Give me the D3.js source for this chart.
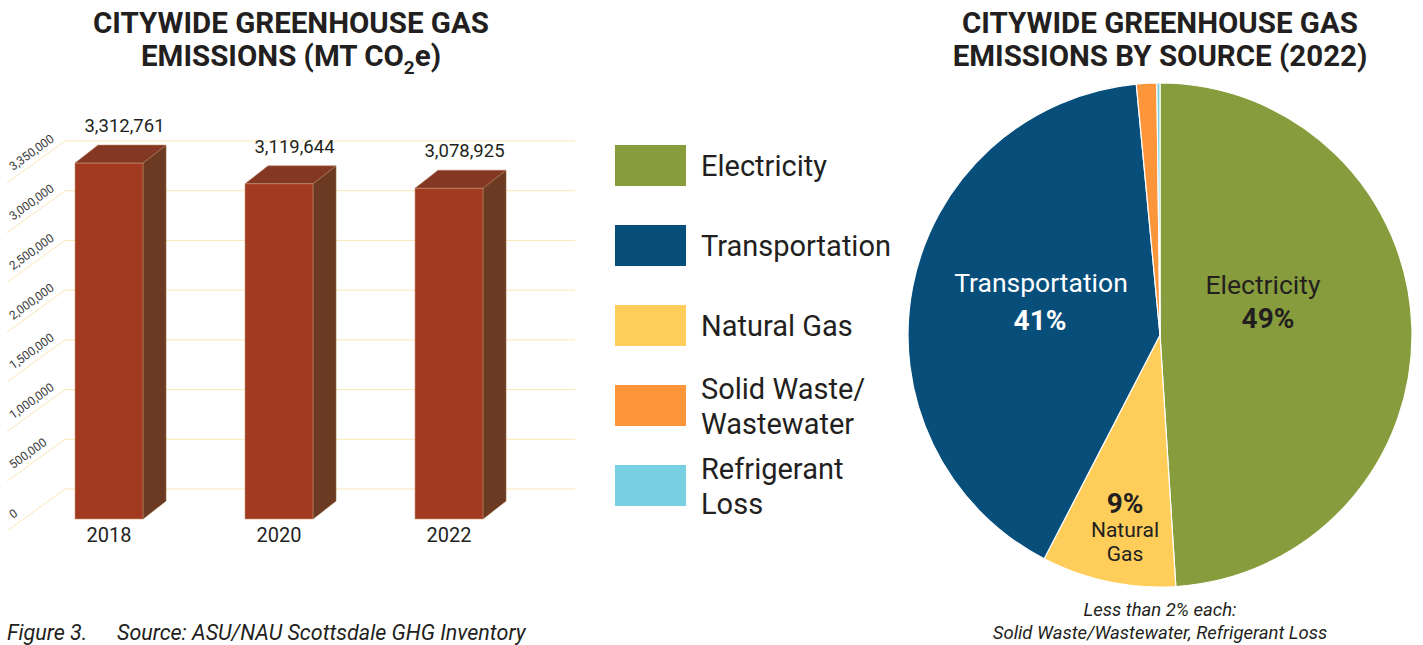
<!DOCTYPE html>
<html>
<head>
<meta charset="utf-8">
<script src="https://cdn.jsdelivr.net/npm/d3@7"></script>
<style>
  body { margin: 0; background: #fff; }
  svg { display: block; font-family: Roboto, "Open Sans", sans-serif; }
</style>
</head>
<body>
<svg id="chart" width="1423" height="645"></svg>
<script>
// bar chart data
var years = ['2018', '2020', '2022'];
var emissions = [3312761, 3119644, 3078925];
var tickValues = [0, 500000, 1000000, 1500000, 2000000, 2500000, 3000000, 3500000];
var tickLabels = ['0', '500,000', '1,000,000', '1,500,000', '2,000,000', '2,500,000', '3,000,000', '3,350,000'];

// pie data (2022, percent)
var sources = ['Electricity', 'Natural Gas', 'Transportation', 'Solid Waste/Wastewater', 'Refrigerant Loss'];
var shares = [49.0, 8.6, 40.9, 1.3, 0.2];
var sourceColors = ['#879d3d', '#fecd5a', '#074e7b', '#fd953a', '#7ad0e3'];

// legend order
var legendNames = [['Electricity'], ['Transportation'], ['Natural Gas'], ['Solid Waste/', 'Wastewater'], ['Refrigerant', 'Loss']];
var legendColors = ['#879d3d', '#074e7b', '#fecd5a', '#fd953a', '#7ad0e3'];

var svg = d3.select('#chart');
var fmt = d3.format(',');

// ---------- titles ----------
function title(cx) {
    return svg.append('text')
        .attr('text-anchor', 'middle')
        .style('font-size', '29.5px').style('font-weight', 700).style('fill', '#231f20');
}
var t1 = title(291);
t1.append('tspan').attr('x', 291).attr('y', 33).text('CITYWIDE GREENHOUSE GAS');
t1.append('tspan').attr('x', 291).attr('y', 66).text('EMISSIONS (MT CO');
t1.append('tspan').attr('dy', 8).style('font-size', '19px').text('2');
t1.append('tspan').attr('dy', -8).text('e)');

var t2 = title(1160);
t2.append('tspan').attr('x', 1160).attr('y', 33).text('CITYWIDE GREENHOUSE GAS');
t2.append('tspan').attr('x', 1160).attr('y', 66).text('EMISSIONS BY SOURCE (2022)');

// ---------- 3d bar chart ----------
var depthX = 23, depthY = -18;
var x = d3.scaleBand().domain(years).range([24, 534]).paddingInner(0.6).paddingOuter(0.3);
var yFront = d3.scaleLinear().domain([0, 3500000]).range([519, 143]);
var yWall = d3.scaleLinear().domain([0, 3500000]).range([489, 141]);

var grid = svg.append('g');
grid.selectAll('path')
    .data(tickValues)
    .enter()
    .append('path')
    .attr('d', function(d){
        var y = yWall(d);
        return 'M7,' + (y + 42) + 'L65,' + y + 'L575,' + y;
    })
    .style('fill', 'none')
    .style('stroke', '#fbe7b6')
    .style('stroke-width', 1);

grid.selectAll('text')
    .data(tickValues)
    .enter()
    .append('text')
    .attr('transform', function(d){
        return 'translate(13,' + (yWall(d) + 30) + ') rotate(-36)';
    })
    .style('font-size', '12px')
    .style('fill', '#3a3a3a')
    .text(function(d, i){ return tickLabels[i]; });

var bars = svg.selectAll('g.bar')
    .data(years.map(function(y, i){ return {year: y, value: emissions[i]}; }))
    .enter()
    .append('g')
    .attr('class', 'bar');

bars.append('path')
    .attr('d', function(d){
        var x0 = x(d.year), w = x.bandwidth(), top = yFront(d.value), base = yFront(0);
        return 'M' + (x0 + w) + ',' + top + 'L' + (x0 + w + depthX) + ',' + (top + depthY) +
            'L' + (x0 + w + depthX) + ',' + (base + depthY) + 'L' + (x0 + w) + ',' + base + 'Z';
    })
    .style('fill', '#6c3a22')
    .style('stroke', '#8a6a3a')
    .style('stroke-width', 0.6);

bars.append('path')
    .attr('d', function(d){
        var x0 = x(d.year), w = x.bandwidth(), top = yFront(d.value);
        return 'M' + x0 + ',' + top + 'L' + (x0 + depthX) + ',' + (top + depthY) +
            'L' + (x0 + w + depthX) + ',' + (top + depthY) + 'L' + (x0 + w) + ',' + top + 'Z';
    })
    .style('fill', '#843823')
    .style('stroke', '#b07a5c')
    .style('stroke-width', 0.6);

bars.append('rect')
    .attr('x', function(d){ return x(d.year); })
    .attr('y', function(d){ return yFront(d.value); })
    .attr('width', x.bandwidth())
    .attr('height', function(d){ return yFront(0) - yFront(d.value); })
    .style('fill', '#a23a22')
    .style('stroke', '#c49672')
    .style('stroke-width', 0.6);

bars.append('text')
    .attr('x', function(d){ return x(d.year) + x.bandwidth() / 2 + depthX / 2 + 4; })
    .attr('y', function(d){ return yFront(d.value) + depthY - 13; })
    .attr('text-anchor', 'middle')
    .style('font-size', '18.5px')
    .style('fill', '#231f20')
    .text(function(d){ return fmt(d.value); });

bars.append('text')
    .attr('x', function(d){ return x(d.year) + x.bandwidth() / 2; })
    .attr('y', 542)
    .attr('text-anchor', 'middle')
    .style('font-size', '20px')
    .style('fill', '#231f20')
    .text(function(d){ return d.year; });

svg.append('text')
    .attr('x', 7).attr('y', 640)
    .style('font-size', '21.5px').style('font-style', 'italic').style('fill', '#231f20')
    .text('Figure 3.');
svg.append('text')
    .attr('x', 117).attr('y', 640)
    .style('font-size', '21.5px').style('font-style', 'italic').style('fill', '#231f20')
    .text('Source: ASU/NAU Scottsdale GHG Inventory');

// ---------- legend ----------
var legend = svg.selectAll('g.legend')
    .data(legendNames)
    .enter()
    .append('g')
    .attr('class', 'legend')
    .attr('transform', function(d, i){ return 'translate(615,' + (145 + i * 80) + ')'; });

legend.append('rect')
    .attr('width', 71).attr('height', 41)
    .style('fill', function(d, i){ return legendColors[i]; });

legend.each(function(d){
    var g = d3.select(this);
    var start = d.length === 1 ? 31 : 14;
    d.forEach(function(line, j){
        g.append('text')
            .attr('x', 86)
            .attr('y', start + j * 35)
            .style('font-size', '29px')
            .style('fill', '#231f20')
            .text(line);
    });
});

// ---------- pie ----------
var radius = 252;
var pie = d3.pie().sort(null).value(function(d){ return d; });
var arc = d3.arc().innerRadius(0).outerRadius(radius);
var pieG = svg.append('g').attr('transform', 'translate(1160,335)');

pieG.selectAll('path')
    .data(pie(shares))
    .enter()
    .append('path')
    .attr('d', arc)
    .style('fill', function(d, i){ return sourceColors[i]; })
    .style('stroke', '#fff')
    .style('stroke-width', 1.2);

function pieLabel(px, py, txt, size, weight, color) {
    pieG.append('text')
        .attr('x', px).attr('y', py)
        .attr('text-anchor', 'middle')
        .style('font-size', size).style('font-weight', weight).style('fill', color)
        .text(txt);
}
pieLabel(-119, -43, 'Transportation', '26.5px', 400, '#fff');
pieLabel(-120, -5, Math.round(shares[2]) + '%', '28px', 700, '#fff');
pieLabel(103, -41, 'Electricity', '26.5px', 400, '#231f20');
pieLabel(108, -7, Math.round(shares[0]) + '%', '28px', 700, '#231f20');
pieLabel(-35, 178, Math.round(shares[1]) + '%', '28px', 700, '#231f20');
pieLabel(-35, 202, 'Natural', '21px', 400, '#231f20');
pieLabel(-35, 226, 'Gas', '21px', 400, '#231f20');

svg.append('text')
    .attr('x', 1160).attr('y', 616)
    .attr('text-anchor', 'middle')
    .style('font-size', '18.5px').style('font-style', 'italic').style('fill', '#231f20')
    .text('Less than 2% each:');
svg.append('text')
    .attr('x', 1160).attr('y', 639)
    .attr('text-anchor', 'middle')
    .style('font-size', '18.5px').style('font-style', 'italic').style('fill', '#231f20')
    .text('Solid Waste/Wastewater, Refrigerant Loss');
</script>
</body>
</html>
